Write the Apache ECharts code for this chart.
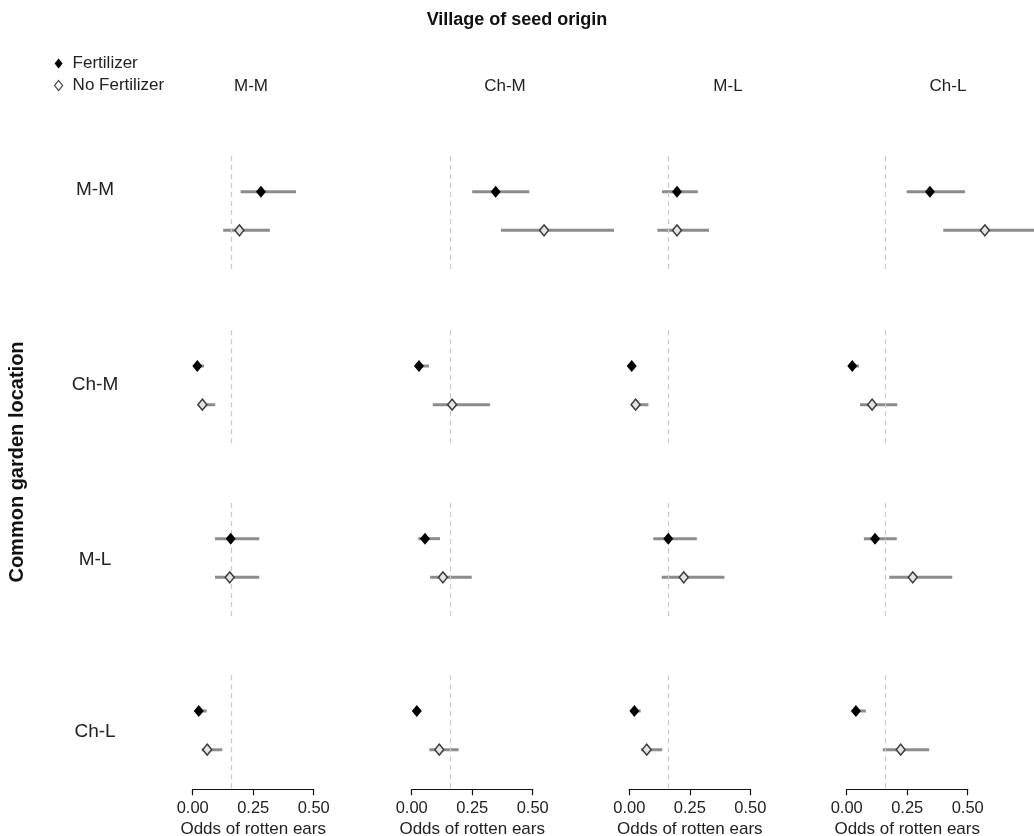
<!DOCTYPE html>
<html>
<head>
<meta charset="utf-8">
<script src="https://cdn.jsdelivr.net/npm/echarts@6/dist/echarts.min.js"></script>
<style>
html,body{margin:0;padding:0;background:#fff;}
#chart{width:1034px;height:836px;}
</style>
</head>
<body>
<div id="chart"></div>
<script>
// ---------------- DATA ----------------
const seedVillages = ['M-M', 'Ch-M', 'M-L', 'Ch-L'];      // columns: village of seed origin
const gardenLocations = ['M-M', 'Ch-M', 'M-L', 'Ch-L'];   // rows: common garden location
const seriesNames = ['Fertilizer', 'No Fertilizer'];
// rows = garden location, columns = seed village
const fertEst = [
  [0.282, 0.347, 0.197, 0.344],
  [0.019, 0.030, 0.010, 0.023],
  [0.157, 0.055, 0.161, 0.117],
  [0.025, 0.021, 0.021, 0.038]
];
const fertLo = [
  [0.198, 0.250, 0.135, 0.248],
  [0.006, 0.012, 0.003, 0.008],
  [0.092, 0.027, 0.099, 0.071],
  [0.010, 0.010, 0.008, 0.020]
];
const fertHi = [
  [0.427, 0.486, 0.283, 0.489],
  [0.047, 0.071, 0.020, 0.051],
  [0.275, 0.117, 0.279, 0.207],
  [0.058, 0.035, 0.047, 0.079]
];
const noFertEst = [
  [0.193, 0.547, 0.197, 0.571],
  [0.040, 0.167, 0.026, 0.105],
  [0.153, 0.129, 0.225, 0.273],
  [0.060, 0.114, 0.072, 0.223]
];
const noFertLo = [
  [0.126, 0.369, 0.116, 0.399],
  [0.023, 0.087, 0.007, 0.055],
  [0.092, 0.076, 0.134, 0.176],
  [0.037, 0.073, 0.048, 0.149]
];
const noFertHi = [
  [0.319, 0.850, 0.329, 0.850],
  [0.093, 0.324, 0.079, 0.209],
  [0.275, 0.248, 0.393, 0.436],
  [0.122, 0.194, 0.136, 0.341]
];
const refOdds = 0.156;
const xTickLabels = ['0.00', '0.25', '0.50'];
const xAxisTitle = 'Odds of rotten ears';
const colTitle = 'Village of seed origin';
const rowTitle = 'Common garden location';

// ---------------- LAYOUT ----------------
const FONT = "'Liberation Sans', Arial, sans-serif";
const W = 1034;
const unitPx = 242;                         // px per 1.0 odds
const zeroX = [192.7, 411.7, 629.3, 846.7]; // pixel of 0.00 in each column
const xMin = -0.032, xMax = 0.832;
const rowTop = [153, 327.3, 500, 672.3];
const rowH = 116;
const colLabelX = [251, 505, 728, 948];
const rowLabelY = [190, 385, 560, 732];

const grids = [], xAxes = [], yAxes = [], series = [];
for (let r = 0; r < 4; r++) {
  for (let c = 0; c < 4; c++) {
    const gi = grids.length;
    const left = zeroX[c] + xMin * unitPx;
    const width = Math.min((xMax - xMin) * unitPx, W - left);
    grids.push({left: left, width: width, top: rowTop[r], height: rowH});
    xAxes.push({gridIndex: gi, type: 'value', min: xMin, max: xMin + width / unitPx, show: false});
    yAxes.push({gridIndex: gi, type: 'value', min: 0, max: 3, show: false});
    series.push({
      type: 'custom',
      xAxisIndex: gi, yAxisIndex: gi,
      clip: true,
      silent: true,
      z: 2,
      data: [
        [fertLo[r][c], fertHi[r][c], 2],
        [noFertLo[r][c], noFertHi[r][c], 1]
      ],
      renderItem: function (params, api) {
        const a = api.coord([api.value(0), api.value(2)]);
        const b = api.coord([api.value(1), api.value(2)]);
        return {
          type: 'line',
          shape: {x1: a[0], y1: a[1], x2: b[0], y2: b[1]},
          style: {stroke: '#8c8c8c', lineWidth: 3}
        };
      },
      markLine: {
        silent: true,
        symbol: 'none',
        label: {show: false},
        lineStyle: {color: '#c8c8c8', type: [5, 4], width: 1.2},
        data: [{xAxis: refOdds}]
      }
    });
    series.push({
      name: seriesNames[0],
      type: 'scatter',
      xAxisIndex: gi, yAxisIndex: gi,
      symbol: 'diamond',
      symbolSize: [10, 12],
      z: 5,
      itemStyle: {color: '#000', opacity: 1},
      data: [[fertEst[r][c], 2]]
    });
    series.push({
      name: seriesNames[1],
      type: 'scatter',
      xAxisIndex: gi, yAxisIndex: gi,
      symbol: 'diamond',
      symbolSize: [9, 11],
      z: 5,
      itemStyle: {color: '#e4e4e4', borderColor: '#3c3c3c', borderWidth: 1.5, opacity: 1},
      data: [[noFertEst[r][c], 1]]
    });
  }
}
// bottom axes (0 .. 0.50), one per column
for (let c = 0; c < 4; c++) {
  const gi = grids.length;
  grids.push({left: zeroX[c], width: 0.5 * unitPx, top: 789, height: 1});
  xAxes.push({
    gridIndex: gi, type: 'value', min: 0, max: 0.5, interval: 0.25,
    axisLine: {show: true, lineStyle: {color: '#111', width: 1.2}},
    axisTick: {show: true, length: 6, lineStyle: {color: '#111', width: 1.2}},
    splitLine: {show: false},
    axisLabel: {
      color: '#222', fontSize: 16.5, fontFamily: FONT, margin: 11,
      formatter: v => xTickLabels[Math.round(v / 0.25)]
    },
    name: xAxisTitle, nameLocation: 'middle', nameGap: 32,
    nameTextStyle: {color: '#222', fontSize: 17, fontFamily: FONT}
  });
  yAxes.push({gridIndex: gi, type: 'value', show: false});
}

const graphics = [];
graphics.push({type: 'text', x: 517, y: 20, style: {
  text: colTitle, font: "bold 18px " + FONT, fill: '#111', align: 'center', verticalAlign: 'middle'}});
seedVillages.forEach((v, c) => graphics.push({type: 'text', x: colLabelX[c], y: 86, style: {
  text: v, font: "17px " + FONT, fill: '#222', align: 'center', verticalAlign: 'middle'}}));
gardenLocations.forEach((g, r) => graphics.push({type: 'text', x: 95, y: rowLabelY[r], style: {
  text: g, font: "19px " + FONT, fill: '#222', align: 'center', verticalAlign: 'middle'}}));
graphics.push({type: 'text', x: 17, y: 462, rotation: Math.PI / 2, style: {
  text: rowTitle, font: "bold 20px " + FONT, fill: '#111', align: 'center', verticalAlign: 'middle'}});

const chart = echarts.init(document.getElementById('chart'), null, {renderer: 'canvas'});
chart.setOption({
  animation: false,
  backgroundColor: '#fff',
  grid: grids,
  xAxis: xAxes,
  yAxis: yAxes,
  legend: {
    orient: 'vertical', left: 49, top: 50, itemGap: 5,
    itemWidth: 8, itemHeight: 10,
    textStyle: {fontSize: 17, fontFamily: FONT, color: '#222', padding: [0, 0, 0, 5]},
    data: [
      {name: seriesNames[0], icon: 'diamond', itemStyle: {color: '#000'}},
      {name: seriesNames[1], icon: 'diamond', itemStyle: {color: '#fff', borderColor: '#3c3c3c', borderWidth: 1.2}}
    ],
    selectedMode: false
  },
  graphic: graphics,
  series: series
});
</script>
</body>
</html>
